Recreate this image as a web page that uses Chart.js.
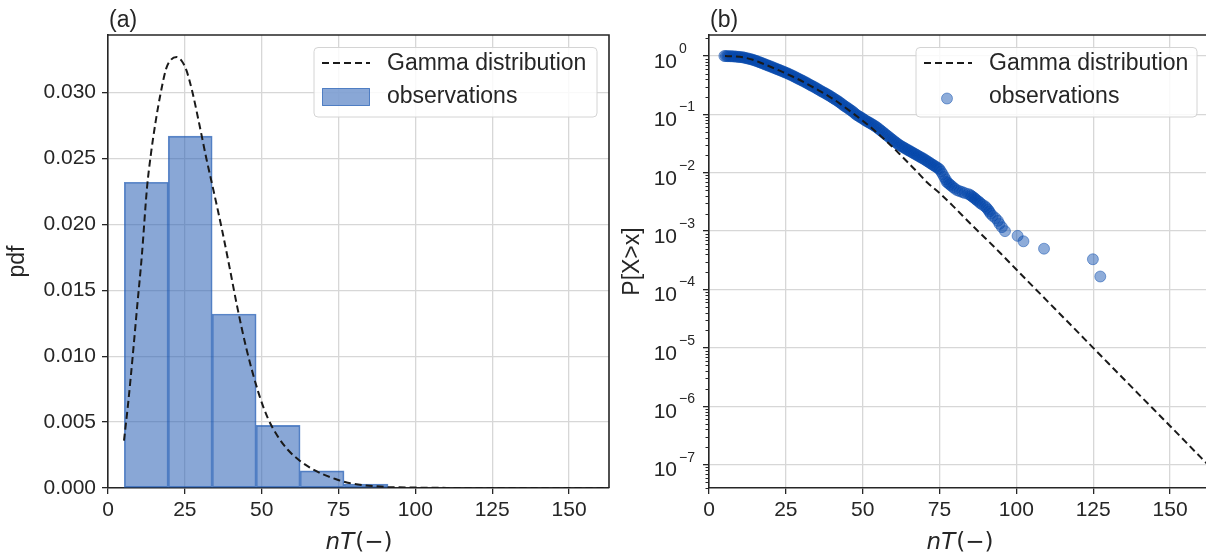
<!DOCTYPE html>
<html>
<head>
<meta charset="utf-8">
<script src="https://cdn.jsdelivr.net/npm/chart.js@4.4.1/dist/chart.umd.min.js"></script>
<style>
  html, body { margin: 0; padding: 0; background: #fff; overflow: hidden; width: 1206px; height: 558px; }
  #panelA { position: absolute; left: 0; top: 0; width: 640px; height: 558px; }
  #panelB { position: absolute; left: 600px; top: 0; width: 620px; height: 558px; }
</style>
</head>
<body>
<div id="panelA"><canvas id="pdfChart" width="640" height="558"></canvas></div>
<div id="panelB"><canvas id="sfChart" width="620" height="558"></canvas></div>
<script>
// ---- histogram of nT (density) ----
const binEdges = [5.3, 19.6, 33.9, 48.2, 62.5, 76.8, 91.1];
const binDensity = [0.0232, 0.0267, 0.0132, 0.00475, 0.0013, 0.0003];

// ---- fitted Gamma pdf ----
const gammaPdfX = [5.2, 6.5, 8, 9.5, 11, 12.7, 14, 15.5, 17, 18.9, 20.5, 22.4, 24, 25.5, 27.5, 29.8, 32, 34.3, 37, 39.5, 42, 45, 49, 52, 55, 58.5, 62.5, 66, 70, 74, 78, 84, 91, 100, 115, 130, 163];
const gammaPdfY = [0.0036, 0.0063, 0.0099, 0.0138, 0.0176, 0.0228, 0.0254, 0.0278, 0.0298, 0.0318, 0.0325, 0.0327, 0.0324, 0.0317, 0.0300, 0.0275, 0.0250, 0.0226, 0.0197, 0.0168, 0.0138, 0.0106, 0.0072, 0.0053, 0.0040, 0.0029, 0.00205, 0.0015, 0.00103, 0.00068, 0.00040, 0.00019, 0.00008, 0.00003, 0.000005, 0.000001, 0];

// ---- fitted Gamma exceedance P[X>x] ----
const gammaSfX = [5.2, 8, 11, 14, 17, 20, 23, 26, 29, 32, 35, 38, 41, 44, 47, 50, 53, 56, 59, 62, 65, 68, 71, 75, 80, 85, 90, 95, 100, 110, 120, 125, 130, 140, 150, 160, 163];
const gammaSfY = [0.998, 0.985, 0.95, 0.87, 0.76, 0.655, 0.56, 0.475, 0.40, 0.33, 0.27, 0.22, 0.175, 0.135, 0.103, 0.078, 0.058, 0.042, 0.030, 0.021, 0.0145, 0.0100, 0.0068, 0.0045, 0.0025, 0.00135, 0.00075, 0.00041, 0.00022, 0.000064, 0.0000186, 0.0000100, 0.0000054, 0.00000157, 0.00000046, 0.000000133, 0.000000092];

// ---- empirical exceedance of the observations ----
const obsNT = [
  5.0, 5.5, 6.0, 6.5, 7.0, 7.5, 8.0, 8.5, 9.0, 9.5, 10.0, 10.5, 11.0, 11.5, 12.0, 12.5, 13.0, 13.5, 14.0, 14.5,
  15.0, 15.5, 16.0, 16.5, 17.0, 17.5, 18.0, 18.5, 19.0, 19.5, 20.0, 20.5, 21.0, 21.5, 22.0, 22.5, 23.0, 23.5, 24.0, 24.5,
  25.0, 25.5, 26.0, 26.5, 27.0, 27.5, 28.0, 28.5, 29.0, 29.5, 30.0, 30.5, 31.0, 31.5, 32.0, 32.5, 33.0, 33.5, 34.0, 34.5,
  35.0, 35.5, 36.0, 36.5, 37.0, 37.5, 38.0, 38.5, 39.0, 39.5, 40.0, 40.5, 41.0, 41.5, 42.0, 42.5, 43.0, 43.5, 44.0, 44.5,
  45.0, 45.5, 46.0, 46.5, 47.0, 47.5, 48.0, 48.5, 49.0, 49.5, 50.0, 50.5, 51.0, 51.5, 52.0, 52.5, 53.0, 53.5, 54.0, 54.5,
  55.0, 55.5, 56.0, 56.5, 57.0, 57.5, 58.0, 58.5, 59.0, 59.5, 60.0, 60.5, 61.0, 61.5, 62.0, 62.5, 63.0, 63.5, 64.0, 64.5,
  65.0, 65.5, 66.0, 66.5, 67.0, 67.5, 68.0, 68.5, 69.0, 69.5, 70.0, 70.5, 71.0, 71.5, 72.0, 72.5, 73.0, 73.5, 74.0, 74.5,
  75.0, 75.5, 76.0, 76.5, 77.0,
  77.3, 77.8, 78.3, 78.8, 79.4, 80.0, 80.8, 81.6, 82.4, 83.2, 84.3, 85.0, 85.4, 85.9, 86.4, 86.8, 87.3, 87.9, 88.3, 89.0,
  89.8, 90.3, 90.8, 91.2, 91.6, 92.3, 93.2, 94.0, 94.5, 95.3, 96.3, 100.4, 102.3, 109.0, 124.9, 127.3
];
const obsExceed = [
  1.000, 0.998, 0.995, 0.993, 0.990, 0.988, 0.985, 0.979, 0.973, 0.967, 0.962, 0.956, 0.950, 0.937, 0.923, 0.910, 0.897, 0.883, 0.870, 0.853,
  0.835, 0.818, 0.800, 0.782, 0.764, 0.746, 0.729, 0.711, 0.694, 0.678, 0.663, 0.647, 0.631, 0.616, 0.600, 0.586, 0.573, 0.559, 0.545, 0.532,
  0.518, 0.505, 0.491, 0.478, 0.464, 0.451, 0.437, 0.424, 0.410, 0.398, 0.387, 0.375, 0.364, 0.352, 0.341, 0.329, 0.318, 0.308, 0.299, 0.289,
  0.279, 0.269, 0.260, 0.250, 0.242, 0.235, 0.227, 0.219, 0.212, 0.204, 0.196, 0.189, 0.181, 0.175, 0.168, 0.161, 0.154, 0.147, 0.140, 0.135,
  0.130, 0.124, 0.119, 0.114, 0.109, 0.103, 0.098, 0.095, 0.091, 0.088, 0.085, 0.081, 0.078, 0.0755, 0.073, 0.0705, 0.068, 0.0655, 0.063, 0.0605,
  0.0578, 0.0551, 0.0525, 0.0500, 0.0476, 0.0453, 0.0432, 0.0412, 0.0392, 0.0374, 0.0356, 0.0340, 0.0325, 0.0310, 0.0296, 0.0286, 0.0277, 0.0267, 0.0258, 0.0249,
  0.0241, 0.0233, 0.0225, 0.0217, 0.0210, 0.0203, 0.0196, 0.0189, 0.0183, 0.0177, 0.0171, 0.0164, 0.0158, 0.0152, 0.0146, 0.0140, 0.0135, 0.0130, 0.0125, 0.0120,
  0.0115, 0.0105, 0.0095, 0.0085, 0.0077,
  0.0070, 0.00667, 0.00633, 0.0060, 0.00567, 0.00533, 0.0050, 0.00483, 0.00467, 0.0045, 0.00433, 0.00417, 0.0040, 0.00383, 0.00367, 0.0035, 0.00333, 0.00317, 0.0030, 0.00283,
  0.00267, 0.0025, 0.00233, 0.00217, 0.0020, 0.00183, 0.00167, 0.0015, 0.00133, 0.00117, 0.0010, 0.00083, 0.00067, 0.0005, 0.00033, 0.000167
];

// ---- axis ticks ----
const xTicks = [0, 25, 50, 75, 100, 125, 150];
const pdfTicks = [0, 0.005, 0.010, 0.015, 0.020, 0.025, 0.030];
const decadeExponents = [0, -1, -2, -3, -4, -5, -6, -7];

// ---- styling ----
const SANS = '"Liberation Sans", Arial, Helvetica, sans-serif';
const MATH = '"DejaVu Sans", sans-serif';
const INK = '#262626';
const GRID = '#d7d7d7';
const BAR_FILL = 'rgba(40, 95, 180, 0.55)';
const BAR_EDGE = 'rgba(30, 90, 180, 0.7)';
const DOT = 'rgba(5, 70, 170, 0.45)';
const DASH = [7, 4];

Chart.defaults.font.family = SANS;
Chart.defaults.color = INK;

function gridStyle() {
  return { color: GRID, lineWidth: 1.3, tickColor: INK, tickLength: 6, tickWidth: 1.3, offset: false };
}

function xAxis() {
  return {
    type: 'linear', min: 0, max: 163, offset: false,
    afterFit: s => { s.height = 70; },
    afterBuildTicks: s => { s.ticks = xTicks.map(v => ({ value: v })); },
    grid: gridStyle(),
    border: { color: INK, width: 1.6 },
    ticks: { font: { size: 21 }, color: INK, padding: 4, maxRotation: 0, includeBounds: false, callback: v => String(v) }
  };
}

// frame, panel letter, axis titles, legend
function panelDecor(opts) {
  return {
    id: 'decor' + opts.key,
    afterDraw(chart) {
      const { ctx, chartArea: a } = chart;
      ctx.save();
      // top / right spines
      ctx.strokeStyle = INK; ctx.lineWidth = 1.6;
      ctx.beginPath();
      ctx.moveTo(a.left, a.top); ctx.lineTo(a.right, a.top); ctx.lineTo(a.right, a.bottom);
      ctx.stroke();
      // panel letter
      ctx.fillStyle = INK;
      ctx.font = '23px ' + SANS;
      ctx.textAlign = 'left'; ctx.textBaseline = 'middle';
      ctx.fillText(opts.letter, a.left + 1, 21);
      // x title: nT(−)
      const cx = (a.left + a.right) / 2, cy = 543;
      ctx.font = 'italic 23px ' + MATH;
      const w1 = ctx.measureText('nT').width;
      ctx.font = '23px ' + MATH;
      const w2 = ctx.measureText('(\u2212)').width;
      const x0 = cx - (w1 + w2) / 2;
      ctx.font = 'italic 23px ' + MATH;
      ctx.fillText('nT', x0, cy);
      ctx.font = '23px ' + MATH;
      ctx.fillText('(\u2212)', x0 + w1 + 1, cy);
      // y title
      ctx.save();
      ctx.translate(opts.yTitleX, (a.top + a.bottom) / 2);
      ctx.rotate(-Math.PI / 2);
      ctx.textAlign = 'center';
      ctx.font = '23px ' + SANS;
      ctx.fillText(opts.yTitle, 0, 0);
      ctx.restore();
      ctx.restore();
    },
    afterDatasetsDraw(chart) {
      const { ctx } = chart;
      const L = opts.legend;
      ctx.save();
      ctx.beginPath();
      ctx.roundRect(L.x, L.y, L.w, L.h, 4);
      ctx.fillStyle = 'rgba(255,255,255,0.85)';
      ctx.fill();
      ctx.strokeStyle = '#d4d4d4'; ctx.lineWidth = 1;
      ctx.stroke();
      // dashed line key
      ctx.strokeStyle = '#1a1a1a'; ctx.lineWidth = 2; ctx.setLineDash(DASH);
      ctx.beginPath();
      ctx.moveTo(L.x + 8, L.y + 15.5); ctx.lineTo(L.x + 56, L.y + 15.5);
      ctx.stroke();
      ctx.setLineDash([]);
      opts.drawObsKey(ctx, L);
      ctx.fillStyle = INK;
      ctx.font = '23px ' + SANS;
      ctx.textAlign = 'left'; ctx.textBaseline = 'middle';
      ctx.fillText('Gamma distribution', L.x + 73, L.y + 16);
      ctx.fillText('observations', L.x + 73, L.y + 49);
      ctx.restore();
    }
  };
}

// ---------------- panel (a): pdf ----------------
const histPoints = binDensity.map((d, i) => ({ x: (binEdges[i] + binEdges[i + 1]) / 2, y: d }));
const pdfLine = gammaPdfX.map((x, i) => ({ x, y: gammaPdfY[i] }));

new Chart(document.getElementById('pdfChart'), {
  type: 'bar',
  data: {
    datasets: [
      {
        type: 'line', label: 'Gamma distribution', data: pdfLine, order: 0,
        borderColor: '#1a1a1a', borderWidth: 2, borderDash: DASH, pointRadius: 0,
        cubicInterpolationMode: 'monotone', fill: false
      },
      {
        type: 'bar', label: 'observations', data: histPoints, order: 1,
        backgroundColor: BAR_FILL, borderColor: BAR_EDGE, borderWidth: 1, borderSkipped: false,
        barPercentage: 1, categoryPercentage: 1, grouped: false
      }
    ]
  },
  options: {
    responsive: false, animation: false, devicePixelRatio: 1, events: [],
    layout: { padding: { top: 35, right: 31, left: 0, bottom: 0 } },
    plugins: { legend: { display: false }, tooltip: { enabled: false } },
    scales: {
      x: xAxis(),
      y: {
        type: 'linear', min: 0, max: 0.03437,
        afterFit: s => { s.width = 108; },
        afterBuildTicks: s => { s.ticks = pdfTicks.map(v => ({ value: v })); },
        grid: gridStyle(),
        border: { color: INK, width: 1.6 },
        ticks: { font: { size: 21 }, color: INK, padding: 6, callback: v => v.toFixed(3) }
      }
    }
  },
  plugins: [panelDecor({
    key: 'A', letter: '(a)', yTitle: 'pdf', yTitleX: 18,
    legend: { x: 314, y: 47.5, w: 283, h: 69.5 },
    drawObsKey(ctx, L) {
      ctx.fillStyle = BAR_FILL; ctx.strokeStyle = BAR_EDGE; ctx.lineWidth = 1;
      ctx.fillRect(L.x + 8.5, L.y + 41, 47, 17);
      ctx.strokeRect(L.x + 8.5, L.y + 41, 47, 17);
    }
  })]
});

// ---------------- panel (b): exceedance probability ----------------
const sfLine = gammaSfX.map((x, i) => ({ x, y: gammaSfY[i] }));
const obsPoints = obsNT.map((x, i) => ({ x, y: obsExceed[i] }));

const logAxisExtras = {
  id: 'logAxisExtras',
  afterDraw(chart) {
    const { ctx, chartArea: a } = chart;
    const y = chart.scales.y;
    ctx.save();
    // minor ticks
    ctx.strokeStyle = INK; ctx.lineWidth = 1;
    for (let e = -8; e <= 0; e++) {
      for (let m = 2; m <= 9; m++) {
        const v = m * Math.pow(10, e);
        if (v < y.min || v > y.max) continue;
        const py = Math.round(y.getPixelForValue(v)) + 0.5;
        ctx.beginPath(); ctx.moveTo(a.left - 3.5, py); ctx.lineTo(a.left, py); ctx.stroke();
      }
    }
    // decade labels 10^n
    ctx.fillStyle = INK;
    ctx.textBaseline = 'middle';
    decadeExponents.forEach(n => {
      const py = y.getPixelForValue(Math.pow(10, n));
      ctx.font = '21px ' + SANS;
      ctx.textAlign = 'right';
      ctx.fillText('10', a.left - 32, py + 6);
      ctx.font = '14px ' + SANS;
      ctx.textAlign = 'left';
      ctx.fillText(n < 0 ? '\u2212' + (-n) : String(n), a.left - 30, py - 7);
    });
    ctx.restore();
  }
};

new Chart(document.getElementById('sfChart'), {
  type: 'scatter',
  data: {
    datasets: [
      {
        label: 'Gamma distribution', data: sfLine, order: 0, showLine: true,
        borderColor: '#1a1a1a', borderWidth: 2, borderDash: DASH, pointRadius: 0,
        cubicInterpolationMode: 'monotone', fill: false
      },
      {
        label: 'observations', data: obsPoints, order: 1,
        backgroundColor: DOT, borderColor: DOT, borderWidth: 1, pointRadius: 5.5
      }
    ]
  },
  options: {
    responsive: false, animation: false, devicePixelRatio: 1, events: [],
    layout: { padding: { top: 35, right: 10, left: 0, bottom: 0 } },
    plugins: { legend: { display: false }, tooltip: { enabled: false } },
    scales: {
      x: xAxis(),
      y: {
        type: 'logarithmic', min: 3.98e-8, max: 2.29,
        afterFit: s => { s.width = 109; },
        afterBuildTicks: s => { s.ticks = decadeExponents.map(n => ({ value: Math.pow(10, n) })); },
        grid: gridStyle(),
        border: { color: INK, width: 1.6 },
        ticks: { display: true, font: { size: 21 }, callback: () => '' }
      }
    }
  },
  plugins: [logAxisExtras, panelDecor({
    key: 'B', letter: '(b)', yTitle: 'P[X>x]', yTitleX: 33,
    legend: { x: 316, y: 47.5, w: 281, h: 69.5 },
    drawObsKey(ctx, L) {
      ctx.fillStyle = DOT; ctx.strokeStyle = DOT; ctx.lineWidth = 1;
      ctx.beginPath(); ctx.arc(L.x + 31, L.y + 51, 5.5, 0, Math.PI * 2); ctx.fill(); ctx.stroke();
    }
  })]
});
</script>
</body>
</html>
